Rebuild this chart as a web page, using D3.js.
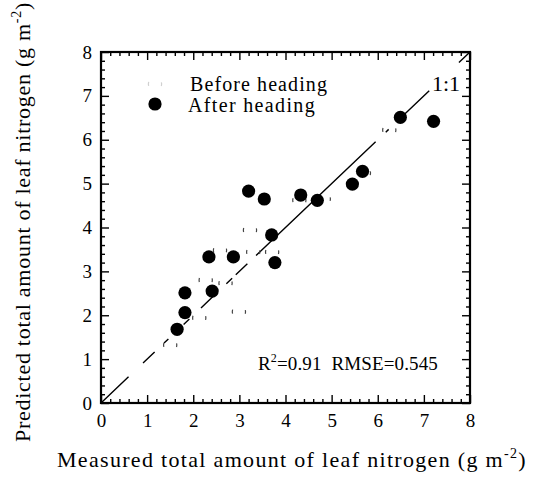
<!DOCTYPE html>
<html><head><meta charset="utf-8">
<script src="https://cdn.jsdelivr.net/npm/d3@7"></script>
<style>
body{margin:0;background:#fff}
svg{display:block}
text{font-family:"Liberation Serif","Times New Roman",serif;fill:#000;white-space:pre}
</style>
</head><body>
<svg id="chart" width="537" height="482"></svg>
<script>
// ---- data ----
const afterX = [1.65, 1.82, 1.82, 2.41, 2.34, 2.87, 3.70, 3.77, 3.20, 3.54, 4.33, 4.69, 5.45, 5.67, 6.49, 7.21];
const afterY = [1.68, 2.06, 2.51, 2.55, 3.33, 3.33, 3.83, 3.20, 4.83, 4.65, 4.74, 4.62, 4.99, 5.28, 6.51, 6.42];
const beforeX = [1.50, 2.13, 2.99, 2.27, 2.70, 2.58, 3.30, 3.71, 3.23, 4.30, 4.83, 5.70, 6.25];
const beforeY = [1.32, 1.94, 2.08, 2.80, 2.73, 3.48, 3.44, 3.44, 3.94, 4.62, 4.65, 5.24, 6.22];
const majorTicks = [0, 1, 2, 3, 4, 5, 6, 7, 8];
const minorTicks = [0.2,0.4,0.6,0.8,1.2,1.4,1.6,1.8,2.2,2.4,2.6,2.8,3.2,3.4,3.6,3.8,4.2,4.4,4.6,4.8,5.2,5.4,5.6,5.8,6.2,6.4,6.6,6.8,7.2,7.4,7.6,7.8];
const legendLabels = ["Before heading", "After heading"];
const lineLabel = "1:1";
const statsR2 = "0.91";
const statsRMSE = "0.545";
const xTitle = "Measured total amount of leaf nitrogen (g m";
const yTitle = "Predicted total amount of leaf nitrogen (g m";
const unitExp = "-2";

// ---- layout ----
const FONT = '"Liberation Serif","Times New Roman",serif';
const svg = d3.select("#chart");
const L = 101, R = 470, T = 52, B = 403;
const x = d3.scaleLinear().domain([0, 8]).range([L, R]);
const y = d3.scaleLinear().domain([0, 8]).range([B, T]);
const MAJ = 8, MIN = 4;

function styleAxis(g, fs) {
  g.attr("font-family", FONT).attr("font-size", fs);
  g.select(".domain").remove();
  g.selectAll(".tick line").attr("stroke", "#000").attr("stroke-width", 1.4);
  g.selectAll("text").attr("font-size", fs).attr("fill", "#000").style("font-family", FONT);
}
function fitWidth(sel, target) {
  const node = sel.node();
  const len = node.getComputedTextLength();
  const n = node.textContent.length;
  sel.style("letter-spacing", ((target - len) / n) + "px");
}

// bottom
svg.append("g").attr("transform", `translate(0,${B})`)
  .call(d3.axisBottom(x).tickValues(majorTicks).tickSize(-MAJ).tickPadding(11).tickFormat(d3.format("d")))
  .call(g => styleAxis(g, 19));
svg.append("g").attr("transform", `translate(0,${B})`)
  .call(d3.axisBottom(x).tickValues(minorTicks).tickSize(-MIN).tickFormat(""))
  .call(g => styleAxis(g, 19));
// top
svg.append("g").attr("transform", `translate(0,${T})`)
  .call(d3.axisTop(x).tickValues(majorTicks).tickSize(-MAJ).tickFormat(""))
  .call(g => styleAxis(g, 19));
svg.append("g").attr("transform", `translate(0,${T})`)
  .call(d3.axisTop(x).tickValues(minorTicks).tickSize(-MIN).tickFormat(""))
  .call(g => styleAxis(g, 19));
// left
svg.append("g").attr("transform", `translate(${L},0)`)
  .call(d3.axisLeft(y).tickValues(majorTicks).tickSize(-MAJ).tickPadding(9).tickFormat(d3.format("d")))
  .call(g => styleAxis(g, 19));
svg.append("g").attr("transform", `translate(${L},0)`)
  .call(d3.axisLeft(y).tickValues(minorTicks).tickSize(-MIN).tickFormat(""))
  .call(g => styleAxis(g, 19));
// right
svg.append("g").attr("transform", `translate(${R},0)`)
  .call(d3.axisRight(y).tickValues(majorTicks).tickSize(-MAJ).tickFormat(""))
  .call(g => styleAxis(g, 19));
svg.append("g").attr("transform", `translate(${R},0)`)
  .call(d3.axisRight(y).tickValues(minorTicks).tickSize(-MIN).tickFormat(""))
  .call(g => styleAxis(g, 19));

// frame
svg.append("rect").attr("x", L).attr("y", T).attr("width", R - L).attr("height", B - T)
  .attr("fill", "none").attr("stroke", "#000").attr("stroke-width", 2.2);

// 1:1 line (broken, as in the scan)
svg.append("line")
  .attr("x1", x(0)).attr("y1", y(0)).attr("x2", x(8)).attr("y2", y(8))
  .attr("stroke", "#000").attr("stroke-width", 1.4)
  .attr("stroke-dasharray", "38,20,16,13,6,21,8,16,23,12,8,5,16,12,165,14,4,19,37,41,30");

svg.append("text").attr("x", 446).attr("y", 91).attr("font-size", 22)
  .attr("text-anchor", "middle").text(lineLabel);

// before heading: open circles (fragmentary in scan)
const r = 6.6, circ = 2 * Math.PI * r;
const fragDash = `${4},${circ / 2 - 4}`;
svg.append("g").selectAll("circle").data(beforeX.map((d, i) => [d, beforeY[i]]))
  .join("circle").attr("cx", d => x(d[0])).attr("cy", d => y(d[1])).attr("r", r)
  .attr("fill", "none").attr("stroke", "#444").attr("stroke-width", 1.2)
  .attr("stroke-dasharray", fragDash).attr("stroke-dashoffset", 2);

// after heading: filled circles
svg.append("g").selectAll("circle").data(afterX.map((d, i) => [d, afterY[i]]))
  .join("circle").attr("cx", d => x(d[0])).attr("cy", d => y(d[1])).attr("r", r)
  .attr("fill", "#000");

// legend
const leg = svg.append("g");
leg.append("circle").attr("cx", 155).attr("cy", 84).attr("r", r)
  .attr("fill", "none").attr("stroke", "#444").attr("stroke-width", 1.2)
  .attr("stroke-dasharray", fragDash).attr("stroke-dashoffset", 2).attr("opacity", 0.25);
leg.append("circle").attr("cx", 155).attr("cy", 104).attr("r", r).attr("fill", "#000");
const l1 = leg.append("text").attr("x", 190).attr("y", 91).attr("font-size", 20).text(legendLabels[0]);
fitWidth(l1, 138);
const l2 = leg.append("text").attr("x", 188).attr("y", 112).attr("font-size", 20).text(legendLabels[1]);
fitWidth(l2, 128);

// stats
const st = svg.append("text").attr("x", 258).attr("y", 370).attr("font-size", 19);
st.append("tspan").text("R");
st.append("tspan").attr("dy", -8).attr("font-size", 12).text("2");
st.append("tspan").attr("dy", 8).text(`=${statsR2}  RMSE=${statsRMSE}`);
fitWidth(st, 180);

// axis titles
function title(sel, main) {
  sel.append("tspan").text(main);
  sel.append("tspan").attr("dy", -9).attr("font-size", 14).text(unitExp);
  sel.append("tspan").attr("dy", 9).text(")");
}
const xt = svg.append("text").attr("x", 292).attr("y", 467).attr("font-size", 22)
  .attr("text-anchor", "middle").call(s => title(s, xTitle));
fitWidth(xt, 470);
const yt = svg.append("text").attr("transform", "translate(30,222) rotate(-90)").attr("font-size", 22)
  .attr("text-anchor", "middle").call(s => title(s, yTitle));
fitWidth(yt, 440);
</script>
</body></html>
